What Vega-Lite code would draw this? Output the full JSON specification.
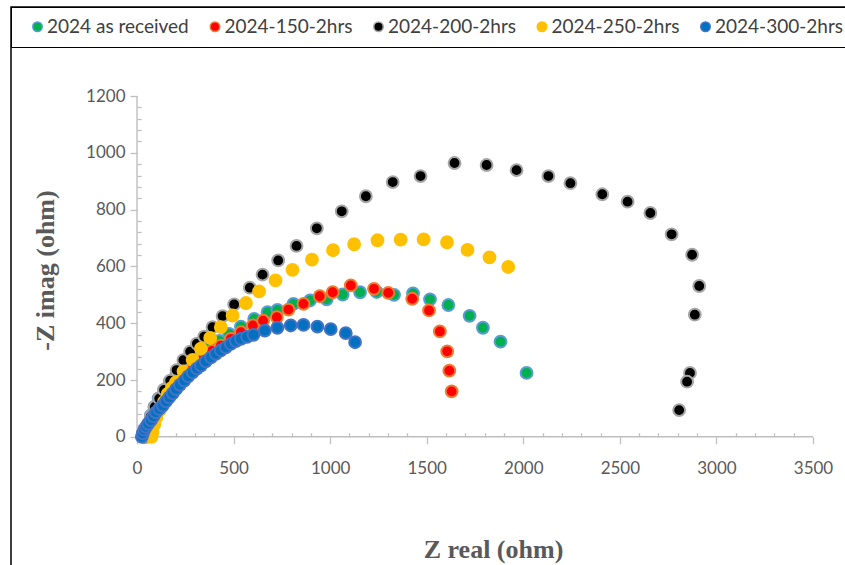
{
  "$schema": "https://vega.github.io/schema/vega-lite/v6.json",
  "width": 845,
  "height": 600,
  "autosize": {"type": "none"},
  "padding": {"left": 11, "top": 7, "right": 0, "bottom": 0},
  "background": "#ffffff",
  "config": {
    "view": {"stroke": "#000000", "strokeWidth": 1.5},
    "font": "Lato",
    "axis": {
      "domain": false,
      "grid": false,
      "tickColor": "#bfbfbf",
      "tickWidth": 1.3,
      "format": "d",
      "labelFont": "Lato",
      "labelFontSize": 17,
      "labelColor": "#595959",
      "labelFlush": false,
      "labelOverlap": false,
      "titleFont": "Liberation Serif",
      "titleFontSize": 26,
      "titleFontWeight": "bold",
      "titleColor": "#595959",
      "titleAlign": "center",
      "titleBaseline": "alphabetic"
    }
  },
  "datasets": {
    "eis": [
      {"series": "2024 as received", "zr": 40, "zi": 0},
      {"series": "2024 as received", "zr": 48, "zi": 20},
      {"series": "2024 as received", "zr": 58, "zi": 45},
      {"series": "2024 as received", "zr": 72, "zi": 75},
      {"series": "2024 as received", "zr": 90, "zi": 105},
      {"series": "2024 as received", "zr": 112, "zi": 135},
      {"series": "2024 as received", "zr": 140, "zi": 165},
      {"series": "2024 as received", "zr": 170, "zi": 195},
      {"series": "2024 as received", "zr": 205, "zi": 225},
      {"series": "2024 as received", "zr": 243, "zi": 252},
      {"series": "2024 as received", "zr": 285, "zi": 277},
      {"series": "2024 as received", "zr": 330, "zi": 300},
      {"series": "2024 as received", "zr": 378, "zi": 318},
      {"series": "2024 as received", "zr": 426, "zi": 338},
      {"series": "2024 as received", "zr": 477, "zi": 362},
      {"series": "2024 as received", "zr": 538, "zi": 388},
      {"series": "2024 as received", "zr": 607, "zi": 415},
      {"series": "2024 as received", "zr": 676, "zi": 439},
      {"series": "2024 as received", "zr": 727, "zi": 447},
      {"series": "2024 as received", "zr": 810, "zi": 468},
      {"series": "2024 as received", "zr": 896, "zi": 480},
      {"series": "2024 as received", "zr": 982, "zi": 484},
      {"series": "2024 as received", "zr": 1065, "zi": 501},
      {"series": "2024 as received", "zr": 1155, "zi": 509},
      {"series": "2024 as received", "zr": 1241, "zi": 510},
      {"series": "2024 as received", "zr": 1331, "zi": 500},
      {"series": "2024 as received", "zr": 1429, "zi": 505},
      {"series": "2024 as received", "zr": 1517, "zi": 484},
      {"series": "2024 as received", "zr": 1612, "zi": 464},
      {"series": "2024 as received", "zr": 1722, "zi": 426},
      {"series": "2024 as received", "zr": 1791, "zi": 384},
      {"series": "2024 as received", "zr": 1882, "zi": 335},
      {"series": "2024 as received", "zr": 2017, "zi": 225},

      {"series": "2024-150-2hrs", "zr": 45, "zi": 0},
      {"series": "2024-150-2hrs", "zr": 55, "zi": 15},
      {"series": "2024-150-2hrs", "zr": 68, "zi": 38},
      {"series": "2024-150-2hrs", "zr": 85, "zi": 62},
      {"series": "2024-150-2hrs", "zr": 105, "zi": 86},
      {"series": "2024-150-2hrs", "zr": 128, "zi": 110},
      {"series": "2024-150-2hrs", "zr": 152, "zi": 133},
      {"series": "2024-150-2hrs", "zr": 180, "zi": 158},
      {"series": "2024-150-2hrs", "zr": 210, "zi": 183},
      {"series": "2024-150-2hrs", "zr": 242, "zi": 208},
      {"series": "2024-150-2hrs", "zr": 275, "zi": 233},
      {"series": "2024-150-2hrs", "zr": 310, "zi": 258},
      {"series": "2024-150-2hrs", "zr": 345, "zi": 280},
      {"series": "2024-150-2hrs", "zr": 388, "zi": 302},
      {"series": "2024-150-2hrs", "zr": 434, "zi": 321},
      {"series": "2024-150-2hrs", "zr": 486, "zi": 345},
      {"series": "2024-150-2hrs", "zr": 538, "zi": 368},
      {"series": "2024-150-2hrs", "zr": 600, "zi": 392},
      {"series": "2024-150-2hrs", "zr": 653, "zi": 409},
      {"series": "2024-150-2hrs", "zr": 724, "zi": 421},
      {"series": "2024-150-2hrs", "zr": 784, "zi": 448},
      {"series": "2024-150-2hrs", "zr": 862, "zi": 468},
      {"series": "2024-150-2hrs", "zr": 946, "zi": 495},
      {"series": "2024-150-2hrs", "zr": 1013, "zi": 509},
      {"series": "2024-150-2hrs", "zr": 1107, "zi": 533},
      {"series": "2024-150-2hrs", "zr": 1227, "zi": 521},
      {"series": "2024-150-2hrs", "zr": 1301, "zi": 507},
      {"series": "2024-150-2hrs", "zr": 1425, "zi": 486},
      {"series": "2024-150-2hrs", "zr": 1512, "zi": 445},
      {"series": "2024-150-2hrs", "zr": 1568, "zi": 371},
      {"series": "2024-150-2hrs", "zr": 1606, "zi": 301},
      {"series": "2024-150-2hrs", "zr": 1617, "zi": 233},
      {"series": "2024-150-2hrs", "zr": 1629, "zi": 160},

      {"series": "2024-200-2hrs", "zr": 38, "zi": 0},
      {"series": "2024-200-2hrs", "zr": 45, "zi": 18},
      {"series": "2024-200-2hrs", "zr": 56, "zi": 42},
      {"series": "2024-200-2hrs", "zr": 72, "zi": 72},
      {"series": "2024-200-2hrs", "zr": 92, "zi": 105},
      {"series": "2024-200-2hrs", "zr": 115, "zi": 135},
      {"series": "2024-200-2hrs", "zr": 140, "zi": 165},
      {"series": "2024-200-2hrs", "zr": 172, "zi": 198},
      {"series": "2024-200-2hrs", "zr": 205, "zi": 235},
      {"series": "2024-200-2hrs", "zr": 240, "zi": 270},
      {"series": "2024-200-2hrs", "zr": 275, "zi": 300},
      {"series": "2024-200-2hrs", "zr": 310, "zi": 328},
      {"series": "2024-200-2hrs", "zr": 348, "zi": 353},
      {"series": "2024-200-2hrs", "zr": 391, "zi": 386},
      {"series": "2024-200-2hrs", "zr": 443, "zi": 425},
      {"series": "2024-200-2hrs", "zr": 503, "zi": 466},
      {"series": "2024-200-2hrs", "zr": 584, "zi": 525},
      {"series": "2024-200-2hrs", "zr": 650, "zi": 571},
      {"series": "2024-200-2hrs", "zr": 731, "zi": 621},
      {"series": "2024-200-2hrs", "zr": 826, "zi": 672},
      {"series": "2024-200-2hrs", "zr": 931, "zi": 734},
      {"series": "2024-200-2hrs", "zr": 1060, "zi": 794},
      {"series": "2024-200-2hrs", "zr": 1185, "zi": 847},
      {"series": "2024-200-2hrs", "zr": 1324, "zi": 897},
      {"series": "2024-200-2hrs", "zr": 1468, "zi": 918},
      {"series": "2024-200-2hrs", "zr": 1644, "zi": 964},
      {"series": "2024-200-2hrs", "zr": 1810, "zi": 957},
      {"series": "2024-200-2hrs", "zr": 1965, "zi": 939},
      {"series": "2024-200-2hrs", "zr": 2130, "zi": 918},
      {"series": "2024-200-2hrs", "zr": 2244, "zi": 893},
      {"series": "2024-200-2hrs", "zr": 2409, "zi": 854},
      {"series": "2024-200-2hrs", "zr": 2540, "zi": 828},
      {"series": "2024-200-2hrs", "zr": 2658, "zi": 788},
      {"series": "2024-200-2hrs", "zr": 2768, "zi": 713},
      {"series": "2024-200-2hrs", "zr": 2874, "zi": 641},
      {"series": "2024-200-2hrs", "zr": 2911, "zi": 531},
      {"series": "2024-200-2hrs", "zr": 2888, "zi": 430},
      {"series": "2024-200-2hrs", "zr": 2863, "zi": 225},
      {"series": "2024-200-2hrs", "zr": 2848, "zi": 194},
      {"series": "2024-200-2hrs", "zr": 2807, "zi": 94},

      {"series": "2024-250-2hrs", "zr": 75, "zi": 0},
      {"series": "2024-250-2hrs", "zr": 80, "zi": 15},
      {"series": "2024-250-2hrs", "zr": 89, "zi": 42},
      {"series": "2024-250-2hrs", "zr": 100, "zi": 68},
      {"series": "2024-250-2hrs", "zr": 120, "zi": 95},
      {"series": "2024-250-2hrs", "zr": 140, "zi": 123},
      {"series": "2024-250-2hrs", "zr": 159, "zi": 151},
      {"series": "2024-250-2hrs", "zr": 180, "zi": 172},
      {"series": "2024-250-2hrs", "zr": 202, "zi": 192},
      {"series": "2024-250-2hrs", "zr": 241, "zi": 230},
      {"series": "2024-250-2hrs", "zr": 288, "zi": 271},
      {"series": "2024-250-2hrs", "zr": 331, "zi": 310},
      {"series": "2024-250-2hrs", "zr": 379, "zi": 348},
      {"series": "2024-250-2hrs", "zr": 434, "zi": 386},
      {"series": "2024-250-2hrs", "zr": 495, "zi": 427},
      {"series": "2024-250-2hrs", "zr": 564, "zi": 471},
      {"series": "2024-250-2hrs", "zr": 632, "zi": 512},
      {"series": "2024-250-2hrs", "zr": 717, "zi": 551},
      {"series": "2024-250-2hrs", "zr": 805, "zi": 588},
      {"series": "2024-250-2hrs", "zr": 906, "zi": 624},
      {"series": "2024-250-2hrs", "zr": 1015, "zi": 657},
      {"series": "2024-250-2hrs", "zr": 1124, "zi": 678},
      {"series": "2024-250-2hrs", "zr": 1245, "zi": 692},
      {"series": "2024-250-2hrs", "zr": 1365, "zi": 694},
      {"series": "2024-250-2hrs", "zr": 1484, "zi": 695},
      {"series": "2024-250-2hrs", "zr": 1605, "zi": 685},
      {"series": "2024-250-2hrs", "zr": 1711, "zi": 658},
      {"series": "2024-250-2hrs", "zr": 1825, "zi": 632},
      {"series": "2024-250-2hrs", "zr": 1922, "zi": 598},

      {"series": "2024-300-2hrs", "zr": 25, "zi": 0},
      {"series": "2024-300-2hrs", "zr": 30, "zi": 12},
      {"series": "2024-300-2hrs", "zr": 38, "zi": 25},
      {"series": "2024-300-2hrs", "zr": 47, "zi": 35},
      {"series": "2024-300-2hrs", "zr": 58, "zi": 46},
      {"series": "2024-300-2hrs", "zr": 72, "zi": 58},
      {"series": "2024-300-2hrs", "zr": 85, "zi": 72},
      {"series": "2024-300-2hrs", "zr": 98, "zi": 86},
      {"series": "2024-300-2hrs", "zr": 115, "zi": 98},
      {"series": "2024-300-2hrs", "zr": 133, "zi": 110},
      {"series": "2024-300-2hrs", "zr": 150, "zi": 125},
      {"series": "2024-300-2hrs", "zr": 167, "zi": 139},
      {"series": "2024-300-2hrs", "zr": 185, "zi": 153},
      {"series": "2024-300-2hrs", "zr": 202, "zi": 168},
      {"series": "2024-300-2hrs", "zr": 222, "zi": 183},
      {"series": "2024-300-2hrs", "zr": 245, "zi": 198},
      {"series": "2024-300-2hrs", "zr": 265, "zi": 213},
      {"series": "2024-300-2hrs", "zr": 288, "zi": 227},
      {"series": "2024-300-2hrs", "zr": 310, "zi": 240},
      {"series": "2024-300-2hrs", "zr": 331, "zi": 251},
      {"series": "2024-300-2hrs", "zr": 356, "zi": 266},
      {"series": "2024-300-2hrs", "zr": 383, "zi": 280},
      {"series": "2024-300-2hrs", "zr": 408, "zi": 292},
      {"series": "2024-300-2hrs", "zr": 434, "zi": 304},
      {"series": "2024-300-2hrs", "zr": 460, "zi": 315},
      {"series": "2024-300-2hrs", "zr": 486, "zi": 327},
      {"series": "2024-300-2hrs", "zr": 512, "zi": 337},
      {"series": "2024-300-2hrs", "zr": 538, "zi": 345},
      {"series": "2024-300-2hrs", "zr": 570, "zi": 352},
      {"series": "2024-300-2hrs", "zr": 603, "zi": 359},
      {"series": "2024-300-2hrs", "zr": 662, "zi": 374},
      {"series": "2024-300-2hrs", "zr": 727, "zi": 384},
      {"series": "2024-300-2hrs", "zr": 796, "zi": 392},
      {"series": "2024-300-2hrs", "zr": 862, "zi": 394},
      {"series": "2024-300-2hrs", "zr": 934, "zi": 388},
      {"series": "2024-300-2hrs", "zr": 1003, "zi": 379},
      {"series": "2024-300-2hrs", "zr": 1081, "zi": 365},
      {"series": "2024-300-2hrs", "zr": 1129, "zi": 333}
    ]
  },
  "layer": [
    {
      "description": "x axis line, from 0 to 3500 ohm",
      "data": {"values": [{}]},
      "mark": {"type": "rule", "color": "#bfbfbf", "strokeWidth": 1.4},
      "encoding": {
        "x": {
          "datum": 0,
          "type": "quantitative",
          "axis": {
            "values": [0, 100, 200, 300, 400, 500, 600, 700, 800, 900, 1000, 1100, 1200, 1300, 1400, 1500, 1600, 1700, 1800, 1900, 2000, 2100, 2200, 2300, 2400, 2500, 2600, 2700, 2800, 2900, 3000, 3100, 3200, 3300, 3400, 3500],
            "labelExpr": "datum.value % 500 === 0 ? datum.label : ''",
            "tickSize": {"condition": {"test": "datum.value % 500 === 0", "value": 7}, "value": -4},
            "offset": -170.2,
            "labelPadding": 17,
            "title": "Z real (ohm)",
            "titleX": 482,
            "titleY": 121
          }
        },
        "x2": {"datum": 3500},
        "y": {
          "datum": 0,
          "type": "quantitative",
          "axis": {
            "values": [0, 40, 80, 120, 160, 200, 240, 280, 320, 360, 400, 440, 480, 520, 560, 600, 640, 680, 720, 760, 800, 840, 880, 920, 960, 1000, 1040, 1080, 1120, 1160, 1200],
            "labelExpr": "datum.value % 200 === 0 ? datum.label : ''",
            "tickSize": {"condition": {"test": "datum.value % 200 === 0", "value": 7}, "value": -4},
            "offset": -126,
            "labelPadding": 5,
            "title": "-Z imag (ohm)",
            "titleAngle": 270,
            "titleX": -84,
            "titleY": 263
          }
        }
      }
    },
    {
      "description": "y axis line, from 0 to 1200 ohm",
      "data": {"values": [{}]},
      "mark": {"type": "rule", "color": "#bfbfbf", "strokeWidth": 1.4},
      "encoding": {
        "x": {
          "datum": 0,
          "type": "quantitative",
          "axis": {
            "values": [0, 100, 200, 300, 400, 500, 600, 700, 800, 900, 1000, 1100, 1200, 1300, 1400, 1500, 1600, 1700, 1800, 1900, 2000, 2100, 2200, 2300, 2400, 2500, 2600, 2700, 2800, 2900, 3000, 3100, 3200, 3300, 3400, 3500],
            "labelExpr": "datum.value % 500 === 0 ? datum.label : ''",
            "tickSize": {"condition": {"test": "datum.value % 500 === 0", "value": 7}, "value": -4},
            "offset": -170.2,
            "labelPadding": 17,
            "title": "Z real (ohm)",
            "titleX": 482,
            "titleY": 121
          }
        },
        "y": {
          "datum": 0,
          "type": "quantitative",
          "axis": {
            "values": [0, 40, 80, 120, 160, 200, 240, 280, 320, 360, 400, 440, 480, 520, 560, 600, 640, 680, 720, 760, 800, 840, 880, 920, 960, 1000, 1040, 1080, 1120, 1160, 1200],
            "labelExpr": "datum.value % 200 === 0 ? datum.label : ''",
            "tickSize": {"condition": {"test": "datum.value % 200 === 0", "value": 7}, "value": -4},
            "offset": -126,
            "labelPadding": 5,
            "title": "-Z imag (ohm)",
            "titleAngle": 270,
            "titleX": -84,
            "titleY": 263
          }
        },
        "y2": {"datum": 1200}
      }
    },
    {
      "data": {"name": "eis"},
      "mark": {"type": "point", "shape": "circle", "filled": true, "size": 140, "strokeWidth": 2, "opacity": 1},
      "encoding": {
        "x": {
          "field": "zr",
          "type": "quantitative",
          "scale": {"domain": [-652.4, 3722.6], "nice": false, "zero": false},
          "axis": {
            "values": [0, 100, 200, 300, 400, 500, 600, 700, 800, 900, 1000, 1100, 1200, 1300, 1400, 1500, 1600, 1700, 1800, 1900, 2000, 2100, 2200, 2300, 2400, 2500, 2600, 2700, 2800, 2900, 3000, 3100, 3200, 3300, 3400, 3500],
            "labelExpr": "datum.value % 500 === 0 ? datum.label : ''",
            "tickSize": {"condition": {"test": "datum.value % 500 === 0", "value": 7}, "value": -4},
            "offset": -170.2,
            "labelPadding": 17,
            "title": "Z real (ohm)",
            "titleX": 482,
            "titleY": 121
          }
        },
        "y": {
          "field": "zi",
          "type": "quantitative",
          "scale": {"domain": [-599.3, 1513.4], "nice": false, "zero": false},
          "axis": {
            "values": [0, 40, 80, 120, 160, 200, 240, 280, 320, 360, 400, 440, 480, 520, 560, 600, 640, 680, 720, 760, 800, 840, 880, 920, 960, 1000, 1040, 1080, 1120, 1160, 1200],
            "labelExpr": "datum.value % 200 === 0 ? datum.label : ''",
            "tickSize": {"condition": {"test": "datum.value % 200 === 0", "value": 7}, "value": -4},
            "offset": -126,
            "labelPadding": 5,
            "title": "-Z imag (ohm)",
            "titleAngle": 270,
            "titleX": -84,
            "titleY": 263
          }
        },
        "fill": {
          "field": "series",
          "type": "nominal",
          "scale": {
            "domain": ["2024 as received", "2024-150-2hrs", "2024-200-2hrs", "2024-250-2hrs", "2024-300-2hrs"],
            "range": ["#00b050", "#ff0000", "#000000", "#ffc000", "#0070c0"]
          },
          "legend": {
            "title": null,
            "orient": "none",
            "legendX": 0,
            "legendY": 0,
            "direction": "horizontal",
            "columns": 5,
            "strokeColor": "#000000",
            "padding": 10,
            "symbolType": "circle",
            "symbolSize": 90,
            "symbolStrokeWidth": 1.5,
            "symbolOffset": 7,
            "labelOffset": 0,
            "labelFont": "Lato",
            "labelFontSize": 19,
            "labelColor": "#404040",
            "columnPadding": 9.5
          }
        },
        "stroke": {
          "field": "series",
          "type": "nominal",
          "scale": {
            "domain": ["2024 as received", "2024-150-2hrs", "2024-200-2hrs", "2024-250-2hrs", "2024-300-2hrs"],
            "range": ["#5b9bd5", "#ed7d31", "#a5a5a5", "#ffc000", "#4472c4"]
          },
          "legend": {
            "title": null,
            "orient": "none",
            "legendX": 0,
            "legendY": 0,
            "direction": "horizontal",
            "columns": 5,
            "strokeColor": "#000000",
            "padding": 10,
            "symbolType": "circle",
            "symbolSize": 90,
            "symbolStrokeWidth": 1.5,
            "symbolOffset": 7,
            "labelOffset": 0,
            "labelFont": "Lato",
            "labelFontSize": 19,
            "labelColor": "#404040",
            "columnPadding": 9.5
          }
        }
      }
    }
  ]
}
